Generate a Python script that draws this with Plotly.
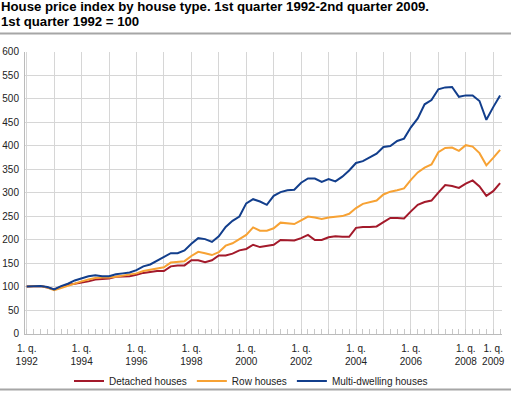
import plotly.graph_objects as go

years = list(range(1992, 2010))
quarters = [f"{y}Q{q}" for y in years for q in range(1, 5)][:70]

detached = [100, 100, 101, 98, 94, 99, 104, 106, 108, 111, 115, 116, 117, 121, 121, 122,
            125, 129, 131, 133, 133, 143, 145, 145, 156, 156, 152, 156, 166, 166, 170, 177,
            180, 189, 184, 186, 189, 199, 199, 198, 203, 210, 199, 199, 205, 207, 206, 206,
            225, 227, 227, 228, 237, 246, 246, 245, 260, 274, 280, 283, 300, 316, 314, 310,
            319, 326, 313, 293, 303, 320]
row = [100, 100, 101, 98, 92, 97, 102, 106, 111, 115, 118, 119, 119, 121, 123, 125,
       128, 133, 136, 138, 141, 151, 153, 154, 165, 174, 171, 167, 173, 187, 192, 201,
       210, 226, 219, 219, 224, 236, 235, 233, 241, 249, 247, 244, 247, 249, 250, 255,
       267, 276, 279, 283, 296, 302, 305, 309, 327, 343, 353, 360, 386, 395, 396, 389,
       401, 398, 384, 358, 374, 391]
multi = [100, 101, 101, 99, 94, 101, 106, 113, 118, 122, 124, 122, 122, 126, 128, 130,
         135, 143, 147, 155, 162, 171, 171, 177, 191, 203, 201, 195, 207, 227, 240, 249,
         277, 286, 281, 274, 293, 301, 305, 306, 321, 330, 330, 323, 329, 324, 334, 347,
         363, 367, 375, 383, 397, 399, 410, 415, 439, 458, 488, 497, 520, 524, 525, 504,
         507, 507, 495, 455, 482, 507]

tick_years = years
tick_labels = ["1. q.<br>%d" % y if (y % 2 == 0 or y == 2009) else "" for y in tick_years]
title_lines = ["House price index by house type. 1st quarter 1992-2nd quarter 2009.",
               "1st quarter 1992 = 100"]

x = list(range(len(quarters)))
tickvals = [quarters.index(f"{y}Q1") for y in tick_years]

series = [("Detached houses", detached, "#a31a2b"),
          ("Row houses", row, "#f7a234"),
          ("Multi-dwelling houses", multi, "#123e8c")]

W, H = 511, 393
# plot-area edges in pixels
PL, PR, PT, PB = 25, 502, 51.7, 333.5
RULES = (33.5, 389.5)

fig = go.Figure()
for name, vals, col in series:
    fig.add_trace(go.Scatter(x=x, y=vals, name=name, mode="lines",
                             line=dict(color=col, width=2), customdata=quarters,
                             hovertemplate="%{customdata}: %{y}<extra></extra>"))

# decorative separator rules on a full-figure overlay axis (pixel coordinates)
rx, ry = [], []
for r in RULES:
    rx += [0, W, None]
    ry += [r, r, None]
fig.add_trace(go.Scatter(x=rx, y=ry, xaxis="x2", yaxis="y2", mode="lines",
                         line=dict(color="#a6a6a6", width=2), showlegend=False,
                         hoverinfo="skip"))

def fx(p):
    return p / W

def fy(p):
    return (H - p) / H

TS = 13.2
annotations = []
for k, line in enumerate(title_lines):
    baseline = [11.5, 26.5][k]
    annotations.append(dict(text="<b>%s</b>" % line, xref="paper", yref="paper",
                            x=fx(0), y=fy(baseline - TS),
                            xanchor="left", yanchor="top", align="left", showarrow=False,
                            borderpad=0, font=dict(size=TS, color="#000")))

fig.update_layout(
    width=W, height=H,
    margin=dict(l=0, r=0, t=0, b=0, pad=0, autoexpand=False),
    paper_bgcolor="white", plot_bgcolor="rgba(0,0,0,0)",
    font=dict(family="Liberation Sans, Arial, sans-serif", size=10, color="#222"),
    showlegend=True,
    legend=dict(orientation="h", x=fx(251), xanchor="center", y=fy(381), yanchor="middle",
                font=dict(size=10, color="#222"), itemwidth=30, traceorder="normal",
                bgcolor="rgba(0,0,0,0)"),
    xaxis=dict(domain=[fx(PL), fx(PR)], range=[-0.25, 69.28], tickvals=tickvals, ticktext=tick_labels,
               showgrid=True, gridcolor="#d6d6d6", gridwidth=1,
               showline=True, linecolor="#bbbbbb", linewidth=1, mirror=False,
               ticks="", zeroline=False, tickfont=dict(size=10, color="#222"),
               ticklabelstandoff=5,
               minor=dict(dtick=1, tick0=0, ticks="inside", ticklen=5, tickcolor="#c8c8c8", showgrid=False),
               fixedrange=True),
    yaxis=dict(domain=[fy(PB), fy(PT)], range=[0, 600], dtick=50, showgrid=True, gridcolor="#d6d6d6", gridwidth=1,
               showline=True, linecolor="#bbbbbb", linewidth=1, ticks="", zeroline=False,
               tickfont=dict(size=10, color="#222"), ticklabelstandoff=3, fixedrange=True),
    xaxis2=dict(domain=[0, 1], range=[0, W], visible=False, anchor="y2", fixedrange=True),
    yaxis2=dict(domain=[0, 1], range=[H, 0], visible=False, anchor="x2", fixedrange=True),
    annotations=annotations,
)

fig.write_html("out.html", config={"displayModeBar": False},
               post_script="document.body.style.margin='0';document.body.style.overflow='hidden';")
